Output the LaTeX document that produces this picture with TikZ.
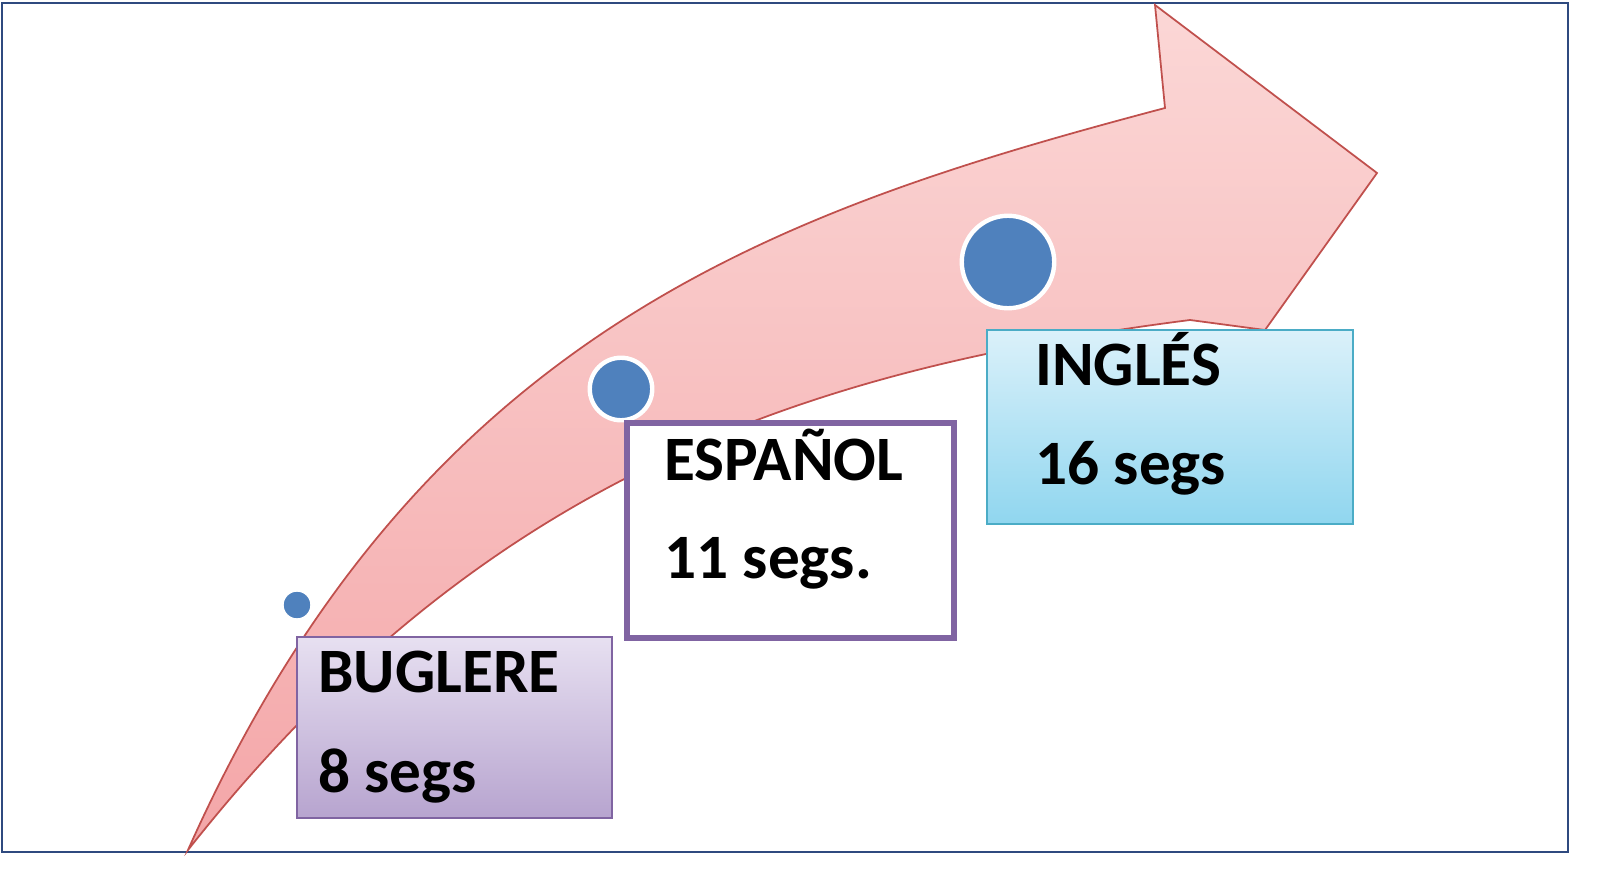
\documentclass[tikz,border=0pt]{standalone}
\usepackage{fontspec}
\setmainfont{Carlito}
\begin{document}
\begin{tikzpicture}[x=0.02cm,y=-0.02cm]
\tikzset{dot/.style={circle,fill=dotblue,draw=white,line width=2.5pt,inner sep=0pt},
 lbl/.style={anchor=base west,inner sep=0pt,font=\fontsize{36}{42}\bfseries\selectfont}}
\definecolor{dotblue}{HTML}{4F81BD}
\definecolor{frame}{HTML}{2F4A7F}
\definecolor{arrowborder}{HTML}{C0504D}
\definecolor{purp}{HTML}{8064A2}
\definecolor{aqua}{HTML}{4BACC6}
\useasboundingbox (0,0) rectangle (1602,885);
\fill[white] (0,0) rectangle (1602,885);
\draw[frame,line width=1.2pt] (2,3) rectangle (1568,852);
% arrow
\shade[top color={rgb,255:red,251;green,215;blue,214}, bottom color={rgb,255:red,244;green,166;blue,168}, draw=arrowborder, line width=1pt]
 (188,850) .. controls (420,330) and (780,210) .. (1165,108)
 -- (1155,5) -- (1377,173) -- (1265,330) -- (1190,320)
 .. controls (800,370) and (480,480) .. (188,850) -- cycle;
% dots
\node[dot,minimum size=0.62cm] (d1) at (297,605) {};
\node[dot,minimum size=1.25cm] (d2) at (621,389) {};
\node[dot,minimum size=1.85cm] (d3) at (1008,262) {};
% boxes
\shade[top color={rgb,255:red,231;green,224;blue,241}, bottom color={rgb,255:red,183;green,164;blue,207}, draw=purp, line width=1.2pt] (297,637) rectangle (612,818);
\filldraw[fill=white, draw=purp, line width=3pt] (627,423) rectangle (954,638);
\shade[top color={rgb,255:red,219;green,241;blue,250}, bottom color={rgb,255:red,144;green,214;blue,239}, draw=aqua, line width=1.2pt] (987,330) rectangle (1353,524);
% labels
\node[lbl] (t1) at (318,692) {BUGLERE};
\node[lbl] (t2) at (318,792) {8 segs};
\node[lbl] (t3) at (664,480) {ESPAÑOL};
\node[lbl] (t4) at (664,578) {11 segs.};
\node[lbl] (t5) at (1035,385) {INGLÉS};
\node[lbl] (t6) at (1035,484) {16 segs};
\end{tikzpicture}
\end{document}
